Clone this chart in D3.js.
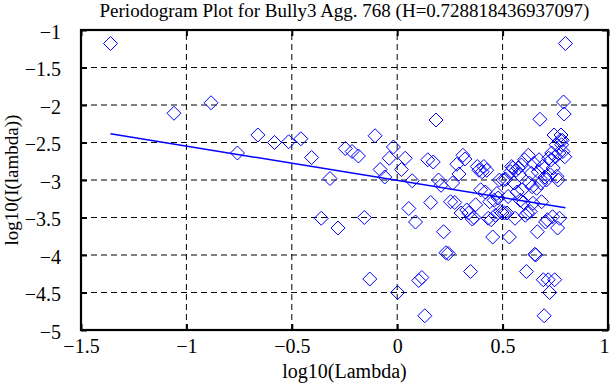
<!DOCTYPE html>
<html>
<head>
<meta charset="utf-8">
<script src="https://cdn.jsdelivr.net/npm/d3@7/dist/d3.min.js"></script>
<style>
  html, body { margin: 0; padding: 0; background: #fff; }
  svg { display: block; }
  text { font-family: "Liberation Serif", "Times New Roman", serif; fill: #000; }
</style>
</head>
<body>
<svg id="chart" width="611" height="385"></svg>
<script>
// ---- data ----
const titleText = "Periodogram Plot for Bully3 Agg. 768 (H=0.728818436937097)";
const xLabelText = "log10(Lambda)";
const yLabelText = "log10(I(lambda))";

const xTicks = [-1.5, -1, -0.5, 0, 0.5, 1];
const yTicks = [-5, -4.5, -4, -3.5, -3, -2.5, -2, -1.5, -1];
const xDomain = [-1.5, 1];
const yDomain = [-5, -1];

// log10(lambda) of each periodogram point
const logLambda = [
  -1.360, -1.059, -0.883, -0.758, -0.661, -0.582, -0.515, -0.457, -0.406, -0.360,
  -0.319, -0.281, -0.246, -0.214, -0.184, -0.156, -0.130, -0.105, -0.081, -0.059,
  -0.038, -0.018, 0.002, 0.020, 0.038, 0.055, 0.071, 0.087, 0.102, 0.117,
  0.131, 0.145, 0.159, 0.171, 0.184, 0.196, 0.208, 0.220, 0.231, 0.242,
  0.253, 0.263, 0.273, 0.283, 0.293, 0.303, 0.312, 0.321, 0.330, 0.339,
  0.348, 0.356, 0.364, 0.372, 0.380, 0.388, 0.396, 0.403, 0.411, 0.418,
  0.425, 0.432, 0.439, 0.446, 0.453, 0.460, 0.466, 0.473, 0.479, 0.485,
  0.491, 0.497, 0.503, 0.509, 0.515, 0.521, 0.526, 0.532, 0.538, 0.543,
  0.548, 0.554, 0.559, 0.564, 0.569, 0.574, 0.580, 0.584, 0.589, 0.594,
  0.599, 0.604, 0.608, 0.613, 0.618, 0.622, 0.627, 0.631, 0.636, 0.640,
  0.644, 0.649, 0.653, 0.657, 0.661, 0.665, 0.669, 0.673, 0.677, 0.681,
  0.685, 0.689, 0.693, 0.697, 0.701, 0.704, 0.708, 0.712, 0.716, 0.719,
  0.723, 0.726, 0.730, 0.733, 0.737, 0.740, 0.744, 0.747, 0.751, 0.754,
  0.757, 0.761, 0.764, 0.767, 0.770, 0.774, 0.777, 0.780, 0.783, 0.786,
  0.789, 0.792, 0.795, 0.798
];
// log10(I(lambda)) of each point
const logI = [
  -1.18, -2.11, -1.97, -2.64, -2.40, -2.50, -2.49, -2.45, -2.70, -3.51,
  -2.98, -3.64, -2.58, -2.62, -2.68, -3.50, -4.32, -2.41, -2.86, -2.96,
  -2.71, -2.56, -4.50, -2.86, -2.71, -3.38, -3.01, -3.56, -4.34, -4.30,
  -4.81, -2.73, -3.30, -2.76, -2.20, -3.00, -3.07, -3.69, -3.97, -3.98,
  -3.29, -3.04, -3.30, -2.79, -2.92, -3.44, -2.67, -2.72, -3.40, -3.44,
  -4.22, -3.52, -3.50, -3.33, -2.82, -2.87, -3.13, -2.89, -2.82, -3.16,
  -2.87, -3.51, -3.29, -3.53, -3.76, -3.27, -3.47, -3.18, -3.24, -3.00,
  -3.42, -3.44, -3.00, -3.44, -2.99, -3.44, -3.22, -3.76, -2.89, -2.82,
  -2.84, -3.04, -3.51, -2.87, -3.16, -2.84, -2.93, -3.27, -2.80, -3.13,
  -3.30, -2.73, -3.47, -4.22, -3.44, -2.67, -3.04, -3.42, -2.91, -3.09,
  -3.31, -2.78, -3.99, -4.00, -3.11, -3.69, -2.89, -2.73, -2.19, -3.04,
  -3.29, -2.82, -4.33, -4.81, -2.96, -3.56, -3.00, -3.53, -4.33, -2.71,
  -4.50, -2.93, -2.73, -2.64, -3.49, -2.84, -2.40, -4.33, -2.69, -2.53,
  -2.95, -3.64, -3.00, -2.64, -3.51, -2.47, -2.40, -2.53, -2.47, -2.62,
  -1.96, -2.12, -2.69, -1.18
];
// least-squares fit line endpoints
const fitX = [-1.360, 0.798];
const fitY = [-2.383, -3.370];

// ---- layout ----
const svg = d3.select("#chart");
const margin = { left: 81, right: 3, top: 30, bottom: 55 };
const W = 611, H = 385;
const x = d3.scaleLinear().domain(xDomain).range([margin.left, W - margin.right]);
const y = d3.scaleLinear().domain(yDomain).range([H - margin.bottom, margin.top]);
const x0 = x.range()[0], x1 = x.range()[1], y0 = y.range()[0], y1 = y.range()[1];

const fmt = v => (v < 0 ? "\u2212" : "") + String(Math.abs(v));

// grid
const grid = svg.append("g");
grid.selectAll("line.gx").data(xTicks.filter(t => t > xDomain[0] && t < xDomain[1]))
  .join("line").attr("x1", d => x(d)).attr("x2", d => x(d)).attr("y1", y0).attr("y2", y1)
  .attr("stroke", "#000").attr("stroke-width", 1).attr("stroke-dasharray", "6,4");
grid.selectAll("line.gy").data(yTicks.filter(t => t > yDomain[0] && t < yDomain[1]))
  .join("line").attr("class", "gy").attr("y1", d => y(d)).attr("y2", d => y(d)).attr("x1", x0).attr("x2", x1)
  .attr("stroke", "#000").attr("stroke-width", 1).attr("stroke-dasharray", "6,4");

// axes (inward ticks on all four sides)
const tl = 6;
const fontSize = "20px";
const axB = svg.append("g").attr("transform", `translate(0,${y0})`)
  .call(d3.axisBottom(x).tickValues(xTicks).tickSize(-tl).tickFormat(fmt).tickPadding(9));
const axT = svg.append("g").attr("transform", `translate(0,${y1})`)
  .call(d3.axisTop(x).tickValues(xTicks).tickSize(-tl).tickFormat(""));
const axL = svg.append("g").attr("transform", `translate(${x0},0)`)
  .call(d3.axisLeft(y).tickValues(yTicks).tickSize(-tl).tickFormat(fmt).tickPadding(20));
const axR = svg.append("g").attr("transform", `translate(${x1},0)`)
  .call(d3.axisRight(y).tickValues(yTicks).tickSize(-tl).tickFormat(""));
[axB, axT, axL, axR].forEach(a => {
  a.select(".domain").remove();
  a.selectAll(".tick line").attr("stroke", "#000").attr("stroke-width", 2);
  a.selectAll(".tick text").attr("font-family", "Liberation Serif, serif").attr("font-size", fontSize).attr("fill", "#000");
});
axL.selectAll(".tick text").attr("dy", "0.4em");
axB.selectAll(".tick text").attr("dy", "0.71em");
// keep the last x tick label inside the picture
axB.selectAll(".tick text").filter(d => d === xDomain[1]).attr("text-anchor", "end").attr("dx", "1");

// frame
svg.append("rect").attr("x", x0).attr("y", y1).attr("width", x1 - x0).attr("height", y0 - y1)
  .attr("fill", "none").attr("stroke", "#000").attr("stroke-width", 2.2);

// points: open diamonds
const r = 7;
const pts = logLambda.map((v, i) => [v, logI[i]]);
svg.append("g").selectAll("path").data(pts).join("path")
  .attr("d", d => {
    const cx = x(d[0]), cy = y(d[1]);
    return `M${cx},${cy - r}L${cx + r},${cy}L${cx},${cy + r}L${cx - r},${cy}Z`;
  })
  .attr("fill", "none").attr("stroke", "#0000ff").attr("stroke-width", 1);

// fit line
const line = d3.line().x(d => x(d[0])).y(d => y(d[1]));
svg.append("path").datum(fitX.map((v, i) => [v, fitY[i]]))
  .attr("d", line).attr("fill", "none").attr("stroke", "#0000ff").attr("stroke-width", 1.5);

// texts
svg.append("text").attr("x", (x0 + x1) / 2).attr("y", 17).attr("text-anchor", "middle")
  .attr("font-size", "19px").text(titleText);
svg.append("text").attr("x", (x0 + x1) / 2).attr("y", 378).attr("text-anchor", "middle")
  .attr("font-size", "20px").text(xLabelText);
svg.append("text").attr("transform", `translate(18,${(y0 + y1) / 2}) rotate(-90)`)
  .attr("text-anchor", "middle").attr("font-size", "19px").text(yLabelText);
</script>
</body>
</html>
